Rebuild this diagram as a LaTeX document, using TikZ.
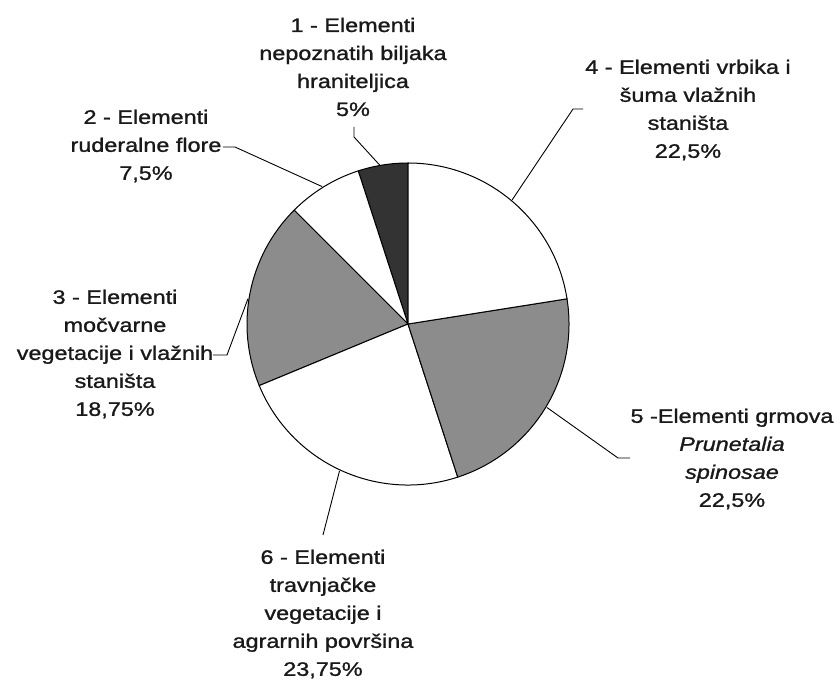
\documentclass[tikz,border=0pt]{standalone}
\usepackage{fontspec}
\setmainfont{Liberation Sans}[FakeStretch=1.2,FakeBold=1.2]
\usepackage{tikz}
\tikzset{every picture/.style={line width=1pt}}
\definecolor{darkslice}{gray}{0.2}
\definecolor{midslice}{gray}{0.55}

\begin{document}
\begin{tikzpicture}[x=1pt,y=1pt,lbl/.style={align=center,inner sep=0pt,text=black!90,font=\fontsize{19.5}{28}\selectfont},leader/.style={line width=0.9pt}]
        \useasboundingbox (-408,-356) rectangle (427,324);
        \filldraw[fill=darkslice] (0,0) -- (90:161) arc[start angle=90,end angle=108,radius=161] -- cycle;
        \filldraw[fill=white] (0,0) -- (108:161) arc[start angle=108,end angle=135,radius=161] -- cycle;
        \filldraw[fill=midslice] (0,0) -- (135:161) arc[start angle=135,end angle=202.5,radius=161] -- cycle;
        \filldraw[fill=white] (0,0) -- (202.5:161) arc[start angle=202.5,end angle=288,radius=161] -- cycle;
        \filldraw[fill=midslice] (0,0) -- (288:161) arc[start angle=288,end angle=369,radius=161] -- cycle;
        \filldraw[fill=white] (0,0) -- (9:161) arc[start angle=9,end angle=90,radius=161] -- cycle;

        \node[lbl] (l1) at (-55,257) {1 - Elementi\\nepoznatih biljaka\\hraniteljica\\5\%};
        \node[lbl] (l2) at (-262,178) {2 - Elementi\\ruderalne flore\\7,5\%};
        \node[lbl] (l3) at (-293,-30) {3 - Elementi\\močvarne\\vegetacije i vlažnih\\staništa\\18,75\%};
        \node[lbl] (l4) at (280,214) {4 - Elementi vrbika i\\šuma vlažnih\\staništa\\22,5\%};
        \node[lbl] (l5) at (324,-135) {5 -Elementi grmova\\\textit{Prunetalia}\\\textit{spinosae}\\22,5\%};
        \node[lbl] (l6) at (-85,-290) {6 - Elementi\\travnjačke\\vegetacije i\\agrarnih površina\\23,75\%};

        \coordinate (p1) at (100:161);
        \coordinate (k1) at (-54,187);
        \coordinate (e1) at (-54,197);
        \coordinate (p2) at (122:162);
        \coordinate (k2) at (-173,177);
        \coordinate (e2) at (-185,177);
        \coordinate (p3) at (171:162);
        \coordinate (k3) at (-181,-31);
        \coordinate (e3) at (-195,-31);
        \coordinate (p4) at (50:162);
        \coordinate (k4) at (165,215);
        \coordinate (e4) at (175,215);
        \coordinate (p5) at (-31:162);
        \coordinate (k5) at (210,-134);
        \coordinate (e5) at (222,-134);
        \coordinate (p6) at (245:162);
        \coordinate (e6) at (-85,-211);

        \draw[leader] (p1) -- (k1) -- (e1);
        \draw[leader] (p2) -- (k2) -- (e2);
        \draw[leader] (p3) -- (k3) -- (e3);
        \draw[leader] (p4) -- (k4) -- (e4);
        \draw[leader] (p5) -- (k5) -- (e5);
        \draw[leader] (p6) -- (e6);
    \end{tikzpicture}
\end{document}
